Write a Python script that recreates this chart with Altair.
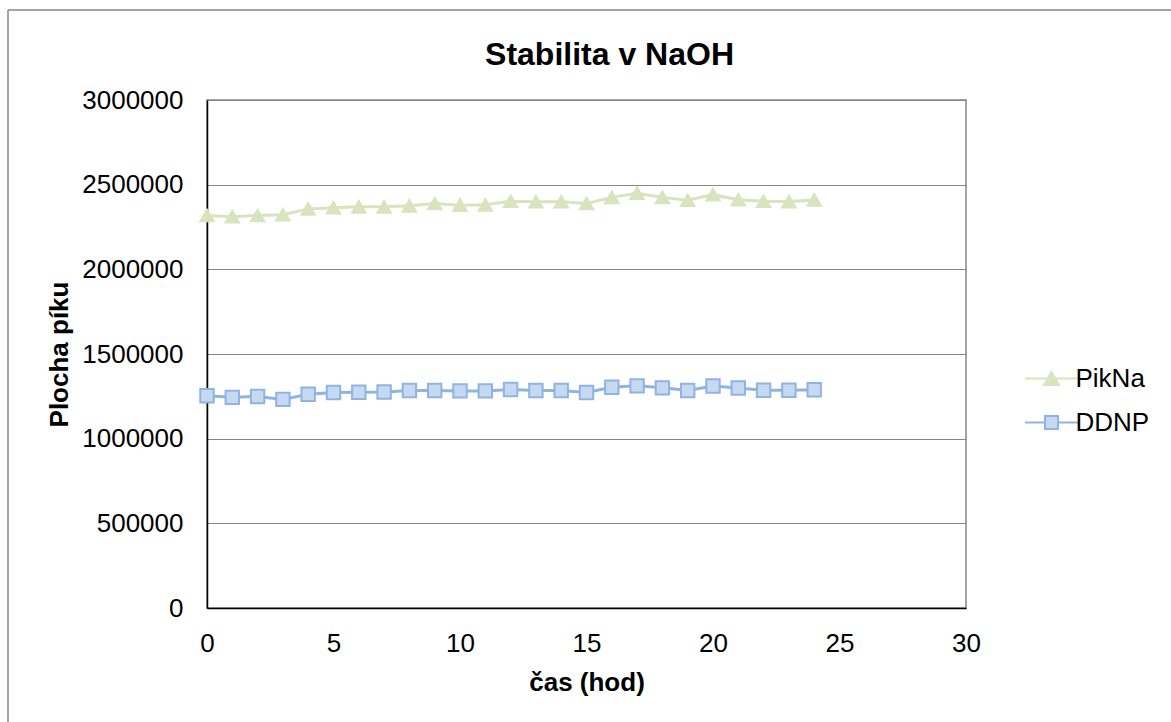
import altair as alt
import pandas as pd

# ---- data ----
hours = list(range(25))
pikna = [2318000, 2311000, 2318000, 2322000, 2357000, 2364000, 2369000, 2369000,
         2375000, 2389000, 2379000, 2381000, 2402000, 2399000, 2399000, 2389000,
         2425000, 2449000, 2425000, 2408000, 2441000, 2411000, 2402000, 2400000,
         2410000]
ddnp = [1253000, 1244000, 1249000, 1232000, 1262000, 1273000, 1274000, 1276000,
        1284000, 1284000, 1282000, 1282000, 1290000, 1284000, 1284000, 1273000,
        1304000, 1312000, 1300000, 1284000, 1311000, 1299000, 1286000, 1286000,
        1289000]
series_names = ["PikNa", "DDNP"]
title_text = "Stabilita v NaOH"
x_title = "čas (hod)"
y_title = "Plocha píku"
x_ticks = [0, 5, 10, 15, 20, 25, 30]
y_ticks = [0, 500000, 1000000, 1500000, 2000000, 2500000, 3000000]

df = pd.DataFrame({
    "hod": hours + hours,
    "value": pikna + ddnp,
    "series": [series_names[0]] * len(hours) + [series_names[1]] * len(hours),
})

line_colors = ["#D7E4BD", "#8EB4E3"]
fill_colors = ["#D7E4BD", "#C6D9F1"]
marker_shapes = ["triangle-up", "square"]

FONT = "Liberation Sans"

x_enc = alt.X("hod:Q", scale=alt.Scale(domain=[0, 30], nice=False),
              axis=alt.Axis(values=x_ticks, title=x_title, grid=False,
                            ticks=False, tickSize=0, labelPadding=22,
                            labelFlush=False, titlePadding=13, format="d"))
y_enc = alt.Y("value:Q", scale=alt.Scale(domain=[0, 3000000], nice=False),
              axis=alt.Axis(values=y_ticks, title=y_title, grid=True,
                            ticks=False, tickSize=0, labelPadding=24,
                            labelFlush=False, titlePadding=9, format="d"))

layers = []
for name, lc, fc, shp in zip(series_names, line_colors, fill_colors, marker_shapes):
    base = alt.Chart(df).transform_filter(alt.datum.series == name)
    layers.append(base.mark_line(strokeWidth=3, color=lc).encode(x=x_enc, y=y_enc))
for name, lc, fc, shp in zip(series_names, line_colors, fill_colors, marker_shapes):
    base = alt.Chart(df).transform_filter(alt.datum.series == name)
    layers.append(base.mark_point(filled=True, opacity=1, strokeWidth=2, size=180,
                                  shape=shp, fill=fc, stroke=lc).encode(x=x_enc, y=y_enc))

# legend symbols: line with marker in the middle (custom SVG paths)
tri_path = "M-3.79,0H3.79M0,-0.93L1.07,0.93L-1.07,0.93Z"
sq_path = "M-3.79,0H-0.93M0.93,0H3.79M-0.93,-0.93H0.93V0.93H-0.93Z"

legend = alt.Legend(
    title=None, orient="none", legendX=831.5, legendY=265.5, padding=0,
    labelFontSize=26, labelFont=FONT, labelColor="#000000", labelOffset=11,
    rowPadding=18, symbolSize=196, symbolStrokeWidth=2, symbolOpacity=1,
)
legend_layer = alt.Chart(df).transform_filter("false").mark_point(
    filled=True, opacity=1, strokeWidth=2).encode(
    shape=alt.Shape("series:N", scale=alt.Scale(domain=series_names, range=[tri_path, sq_path]), legend=legend),
    fill=alt.Fill("series:N", scale=alt.Scale(domain=series_names, range=fill_colors), legend=legend),
    stroke=alt.Stroke("series:N", scale=alt.Scale(domain=series_names, range=line_colors), legend=legend),
)
layers.append(legend_layer)

one = pd.DataFrame({"t": [title_text]})
title = alt.Chart(one).mark_text(fontSize=32, fontWeight="bold", font=FONT,
                                 align="center", baseline="alphabetic",
                                 color="#000000").encode(
    text="t:N", x=alt.value(402.5), y=alt.value(-35))
layers.append(title)

frame_left = alt.Chart(one).mark_rule(color="#868686", strokeWidth=1.5).encode(
    x=alt.value(-199), y=alt.value(-90), y2=alt.value(700))
frame_top = alt.Chart(one).mark_rule(color="#868686", strokeWidth=1.5).encode(
    x=alt.value(-199), x2=alt.value(1000), y=alt.value(-90))
layers += [frame_left, frame_top]

chart = alt.layer(*layers).properties(
    width=759, height=508,
    autosize=alt.AutoSizeParams(type="none"),
    padding={"left": 207, "top": 100, "right": 205, "bottom": 114},
    background="#ffffff",
).configure_view(
    stroke="#868686", strokeWidth=1.5
).configure_axis(
    labelFont=FONT, labelFontSize=26, labelColor="#000000",
    titleFont=FONT, titleFontSize=26, titleFontWeight="bold", titleColor="#000000",
    domainColor="#000000", domainWidth=1.5,
    gridColor="#868686", gridWidth=1.2,
)

chart.save("out.html", embed_options={"renderer": "svg", "actions": False})
